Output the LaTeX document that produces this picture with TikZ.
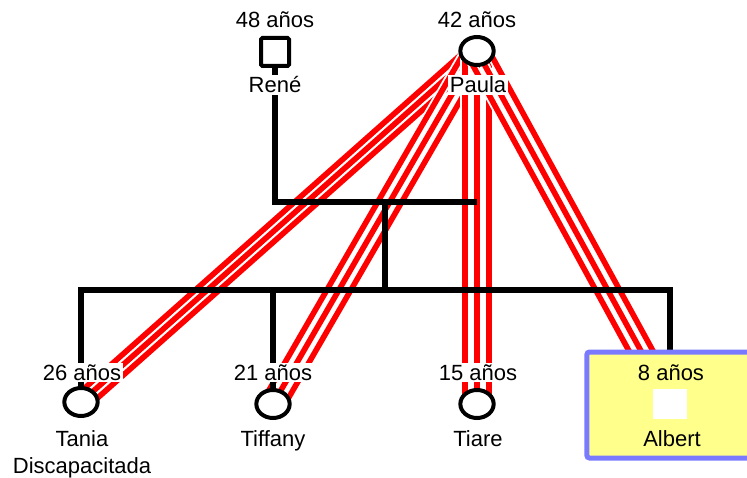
\documentclass[tikz,border=0pt]{standalone}
\usepackage{fontspec}
\setmainfont{Liberation Sans}
\usepackage{tikz}
\usetikzlibrary{shapes.geometric}
\definecolor{relred}{RGB}{255,0,0}
\definecolor{caseblue}{RGB}{122,122,255}
\definecolor{caseyellow}{RGB}{255,255,140}
\pgfdeclarelayer{rel}
\pgfdeclarelayer{kinlines}
\pgfsetlayers{rel,kinlines,main}

\begin{document}
\begin{tikzpicture}[x=0.75pt,y=0.75pt,yscale=-1]
            \tikzstyle{every node}=[font=\fontsize{16.5}{19}\selectfont]
            \tikzstyle{male}=[rectangle,draw=black,line width=3pt,fill=white,minimum size=21pt,inner sep=0pt,rounded corners=1pt]
            \tikzstyle{female}=[ellipse,draw=black,line width=3pt,fill=white,minimum width=25pt,minimum height=21pt,inner sep=0pt]
            \tikzstyle{lbl}=[anchor=base,fill=white,inner sep=1.2pt]
            \tikzstyle{kin}=[draw=black,line width=3.8pt]
            \tikzstyle{relline}=[draw=relred,line width=4.2pt,preaction={draw=white,line width=7pt}]
            \tikzstyle{case}=[rectangle,draw=caseblue,fill=caseyellow,line width=3.75pt,rounded corners=2pt,minimum width=130pt,minimum height=79.5pt,inner sep=0pt]
            \useasboundingbox (0,0) rectangle (747,478);

            %Shape: Square (father)
            \node (rene) [male] at (275,52) {};
            %Shape: Ellipse (mother)
            \node (paula) [female] at (477,51) {};
            %Shape: Rectangle (index case)
            \node (albox) [case] at (673.5,405) {};
            %Shapes: children
            \node (tania) [female] at (81,402) {};
            \node (tiffany) [female] at (273,404) {};
            \node (tiare) [female] at (477,404) {};
            \node (albert) [rectangle,fill=white,minimum width=25pt,minimum height=22pt,inner sep=0pt] at (670,404) {};

            \coordinate (cpl) at (385,202);
            \coordinate (sib) at (385,290);

            %Triple lines
            \begin{pgfonlayer}{rel}
                \foreach \kid in {tania,tiffany,tiare,albert}
                    \foreach \s in {-12,0,12}
                        \draw [relline] ([xshift=\s*0.75pt]paula.center) -- ([xshift=\s*0.75pt]\kid.center);
            \end{pgfonlayer}

            %Family lines
            \begin{pgfonlayer}{kinlines}
                \draw [kin] (rene) -- (rene |- cpl) -- (paula |- cpl);
                \draw [kin] (cpl) -- (sib);
                \draw [kin] (tania) -- (tania |- sib) -- (albert |- sib) -- (albert |- albox.north);
                \draw [kin] (tiffany |- sib) -- (tiffany);
            \end{pgfonlayer}

            % Text Node
            \node (rene-age) [lbl] at (275,28) {48 años};
            % Text Node
            \node (paula-age) [lbl] at (477,28) {42 años};
            % Text Node
            \node (rene-name) [lbl] at (275,93) {René};
            % Text Node
            \node (paula-name) [lbl] at (478,93) {Paula};
            % Text Node
            \node (tania-age) [lbl] at (82,380) {26 años};
            % Text Node
            \node (tiffany-age) [lbl] at (273,380) {21 años};
            % Text Node
            \node (tiare-age) [lbl] at (478,380) {15 años};
            % Text Node
            \node (albert-age) [lbl,fill=none] at (671,380) {8 años};
            % Text Node
            \node (tania-name) [lbl] at (82,446) {Tania};
            % Text Node
            \node (tiffany-name) [lbl] at (273,446) {Tiffany};
            % Text Node
            \node (tiare-name) [lbl] at (478,446) {Tiare};
            % Text Node
            \node (albert-name) [lbl,fill=none] at (672,446) {Albert};
            % Text Node
            \node (tania-note) [lbl] at (82,473) {Discapacitada};
\end{tikzpicture}
\end{document}
